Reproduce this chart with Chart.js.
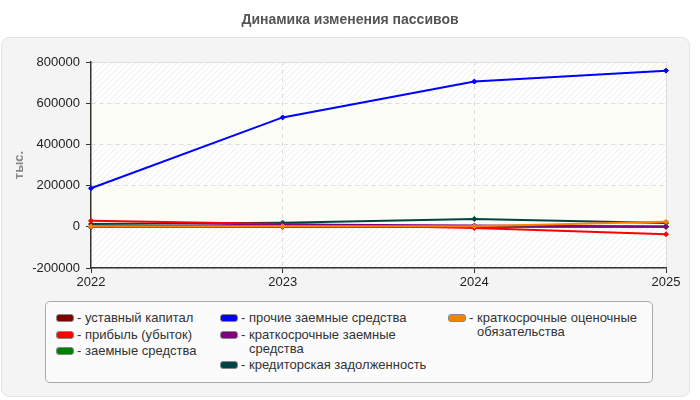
<!DOCTYPE html>
<html lang="ru">
<head>
<meta charset="utf-8">
<title>Динамика изменения пассивов</title>
<script src="https://cdn.jsdelivr.net/npm/chart.js@4.4.1/dist/chart.umd.min.js"></script>
<style>
  html, body { margin: 0; padding: 0; background: #fff; }
  body { width: 700px; height: 400px; position: relative; overflow: hidden;
         font-family: "Liberation Sans", Arial, sans-serif; }
  #chartCanvas { position: absolute; left: 0; top: 0; }
  #legendBox { position: absolute; left: 45px; top: 301px; width: 606px; height: 80px;
               border: 1px solid #aaa; border-radius: 5px; background: #fbfbfb; }
  .legend-col { position: absolute; top: 9px; }
  .legend-item { display: flex; align-items: flex-start; margin-bottom: 2.5px;
                 font-size: 13px; line-height: 14px; color: #333; }
  .legend-swatch { width: 16px; height: 6px; margin-top: 3px; border: 1px solid #888;
                   border-radius: 3px; flex: none; }
  .legend-dash { margin-left: 3px; width: 8px; flex: none; }
</style>
</head>
<body>
<canvas id="chartCanvas" width="700" height="400"></canvas>
<div id="legendBox"></div>
<script>
// Данные графика (тыс. руб.)
const years = ['2022', '2023', '2024', '2025'];
const ustavKapital = [10, 10, 10, 10];
const pribyl = [29000, 13000, -6000, -36000];
const zaemnye = [0, 0, 0, 0];
const prochieZaemnye = [187000, 531000, 705000, 758000];
const kratkZaemnye = [0, 11000, 6000, 1500];
const kreditorka = [13000, 20000, 38000, 18000];
const ocenochnye = [2000, 3000, 3000, 24000];
const yTicks = [-200000, 0, 200000, 400000, 600000, 800000];

const seriesNames = [
  'уставный капитал', 'прибыль (убыток)', 'заемные средства',
  'прочие заемные средства', 'краткосрочные заемные средства',
  'кредиторская задолженность', 'краткосрочные оценочные обязательства'
];
const seriesColors = ['#800000', '#ff0000', '#008000', '#0000ff', '#800080', '#004444', '#ff8000'];
const seriesData = [ustavKapital, pribyl, zaemnye, prochieZaemnye, kratkZaemnye, kreditorka, ocenochnye];
// порядок отрисовки: меньше — выше
const drawOrder = [6, 3, 5, 0, 2, 4, 1];
// колонки легенды: индексы серий
const legendColumns = [[0, 1, 2], [3, 4, 5], [6]];
const legendColLeft = [10, 174, 402];
const legendColWidth = [140, 190, 172];

function makeHatch() {
  const c = document.createElement('canvas');
  c.width = 6; c.height = 6;
  const g = c.getContext('2d');
  g.fillStyle = '#ffffff';
  g.fillRect(0, 0, 6, 6);
  g.strokeStyle = '#ececec';
  g.lineWidth = 1;
  g.beginPath();
  g.moveTo(-1, 7); g.lineTo(7, -1);
  g.moveTo(-1, 1); g.lineTo(1, -1);
  g.moveTo(5, 7); g.lineTo(7, 5);
  g.stroke();
  return c;
}

function roundRect(ctx, x, y, w, h, r) {
  ctx.beginPath();
  ctx.moveTo(x + r, y);
  ctx.arcTo(x + w, y, x + w, y + h, r);
  ctx.arcTo(x + w, y + h, x, y + h, r);
  ctx.arcTo(x, y + h, x, y, r);
  ctx.arcTo(x, y, x + w, y, r);
  ctx.closePath();
}

const backdropPlugin = {
  id: 'backdrop',
  beforeDraw(chart) {
    const { ctx, chartArea: a, scales } = chart;
    ctx.save();
    ctx.fillStyle = '#ffffff';
    ctx.fillRect(0, 0, chart.width, chart.height);
    // панель
    roundRect(ctx, 1.5, 37.5, 688, 359, 8);
    ctx.fillStyle = '#f4f4f4';
    ctx.fill();
    ctx.strokeStyle = '#e2e2e2';
    ctx.lineWidth = 1;
    ctx.stroke();
    // полосы фона области построения
    const hatch = ctx.createPattern(makeHatch(), 'repeat');
    for (let i = 0; i < yTicks.length - 1; i++) {
      const yTop = scales.y.getPixelForValue(yTicks[i + 1]);
      const yBot = scales.y.getPixelForValue(yTicks[i]);
      ctx.fillStyle = i % 2 === 0 ? hatch : '#fdfdf7';
      ctx.fillRect(a.left, yTop, a.right - a.left, yBot - yTop);
    }
    // рамка сверху и справа
    ctx.strokeStyle = '#dddddd';
    ctx.beginPath();
    ctx.moveTo(a.left, a.top + 0.5);
    ctx.lineTo(a.right + 0.5, a.top + 0.5);
    ctx.lineTo(a.right + 0.5, a.bottom);
    ctx.stroke();
    // заголовок
    ctx.fillStyle = '#555555';
    ctx.font = 'bold 14px "Liberation Sans", Arial, sans-serif';
    ctx.textAlign = 'center';
    ctx.textBaseline = 'middle';
    ctx.fillText('Динамика изменения пассивов', 350, 20);
    // подпись оси Y
    ctx.translate(19, 165);
    ctx.rotate(-Math.PI / 2);
    ctx.fillStyle = '#888888';
    ctx.font = 'bold 13px "Liberation Sans", Arial, sans-serif';
    ctx.fillText('тыс.', 0, 0);
    ctx.restore();
  }
};

const datasets = seriesNames.map((name, i) => ({
  label: name,
  data: seriesData[i],
  borderColor: seriesColors[i],
  backgroundColor: seriesColors[i],
  borderWidth: 2,
  pointStyle: 'rectRot',
  pointRadius: 2.5,
  pointBorderWidth: 1,
  tension: 0,
  clip: 8,
  order: drawOrder[i]
}));

const tickFont = { family: '"Liberation Sans", Arial, sans-serif', size: 13 };

new Chart(document.getElementById('chartCanvas'), {
  type: 'line',
  data: { labels: years, datasets },
  options: {
    responsive: false,
    animation: false,
    layout: { padding: { left: 31, right: 34, top: 62, bottom: 110 } },
    plugins: { legend: { display: false }, title: { display: false }, tooltip: { enabled: false } },
    scales: {
      x: {
        offset: false,
        afterFit: (s) => { s.height = 22; },
        grid: {
          color: (c) => (c.index === 0 || c.index === years.length - 1) ? 'rgba(0,0,0,0)' : '#dddddd',
          tickColor: '#333333',
          tickLength: 5,
          tickBorderDash: []
        },
        border: { display: true, color: '#333333', width: 1.5, dash: [4, 4] },
        ticks: { color: '#222222', font: tickFont, padding: 2, maxRotation: 0 }
      },
      y: {
        min: yTicks[0],
        max: yTicks[yTicks.length - 1],
        afterFit: (s) => { s.width = 60; },
        afterBuildTicks: (s) => { s.ticks = yTicks.map((v) => ({ value: v })); },
        grid: {
          color: (c) => (c.tick && c.tick.value === yTicks[yTicks.length - 1]) ? 'rgba(0,0,0,0)' : '#dddddd',
          tickColor: '#333333',
          tickLength: 5,
          tickBorderDash: []
        },
        border: { display: true, color: '#333333', width: 1.5, dash: [4, 4] },
        ticks: { color: '#222222', font: tickFont, padding: 6, callback: (v) => String(v) }
      }
    }
  },
  plugins: [backdropPlugin]
});

// HTML-легенда
const legendBox = document.getElementById('legendBox');
legendColumns.forEach((col, ci) => {
  const colEl = document.createElement('div');
  colEl.className = 'legend-col';
  colEl.style.left = legendColLeft[ci] + 'px';
  col.forEach((si) => {
    const item = document.createElement('div');
    item.className = 'legend-item';
    item.innerHTML = `
      <span class="legend-swatch" style="background:${seriesColors[si]}"></span>
      <span class="legend-dash">-</span>
      <span style="max-width:${legendColWidth[ci]}px">${seriesNames[si]}</span>`;
    colEl.appendChild(item);
  });
  legendBox.appendChild(colEl);
});
</script>
</body>
</html>
